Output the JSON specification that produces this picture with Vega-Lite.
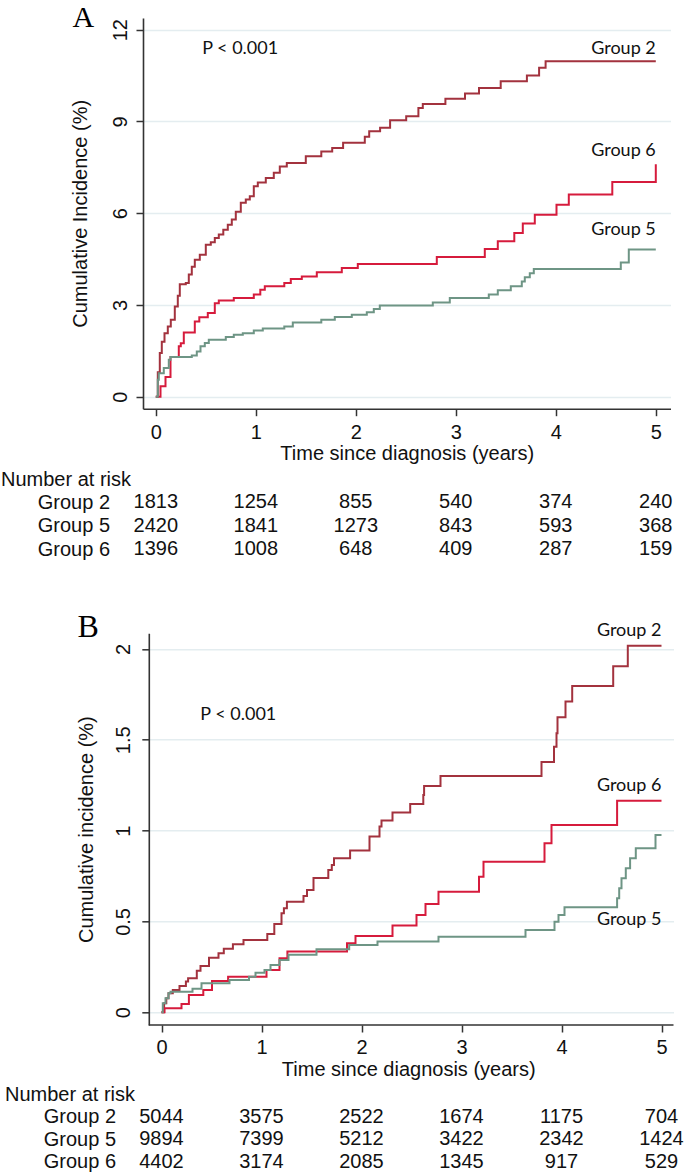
{
  "$schema": "https://vega.github.io/schema/vega-lite/v6.json",
  "padding": {"top": 3, "left": 0, "right": 0, "bottom": 0},
  "background": "white",
  "config": {
    "font": "Liberation Sans",
    "view": {"stroke": null},
    "axis": {"domainColor": "#333333", "domainWidth": 1.6, "tickColor": "#333333", "tickWidth": 1.5, "tickSize": 7, "labelFontSize": 20, "labelColor": "#111111", "titleFontSize": 20, "titleFontWeight": "normal", "titleColor": "#111111", "gridColor": "#e4edf0", "gridWidth": 1.5, "labelFlush": false, "labelOverlap": false}
  },
  "datasets": {
    "curvesA": [
      {"group": "Group 2", "time": 0, "value": 0}, {"group": "Group 2", "time": 0.02, "value": 0.8}, {"group": "Group 2", "time": 0.04, "value": 1.43}, {"group": "Group 2", "time": 0.06, "value": 1.8}, {"group": "Group 2", "time": 0.087, "value": 2.08}, {"group": "Group 2", "time": 0.12, "value": 2.3}, {"group": "Group 2", "time": 0.15, "value": 2.52}, {"group": "Group 2", "time": 0.19, "value": 2.95}, {"group": "Group 2", "time": 0.22, "value": 3.3}, {"group": "Group 2", "time": 0.24, "value": 3.68}, {"group": "Group 2", "time": 0.3, "value": 3.72}, {"group": "Group 2", "time": 0.33, "value": 4.0}, {"group": "Group 2", "time": 0.36, "value": 4.25}, {"group": "Group 2", "time": 0.39, "value": 4.48}, {"group": "Group 2", "time": 0.44, "value": 4.64}, {"group": "Group 2", "time": 0.5, "value": 4.97}, {"group": "Group 2", "time": 0.55, "value": 5.05}, {"group": "Group 2", "time": 0.59, "value": 5.19}, {"group": "Group 2", "time": 0.63, "value": 5.3}, {"group": "Group 2", "time": 0.675, "value": 5.46}, {"group": "Group 2", "time": 0.72, "value": 5.62}, {"group": "Group 2", "time": 0.76, "value": 5.79}, {"group": "Group 2", "time": 0.8, "value": 6.05}, {"group": "Group 2", "time": 0.85, "value": 6.34}, {"group": "Group 2", "time": 0.9, "value": 6.45}, {"group": "Group 2", "time": 0.94, "value": 6.55}, {"group": "Group 2", "time": 0.98, "value": 6.88}, {"group": "Group 2", "time": 1.02, "value": 7.0}, {"group": "Group 2", "time": 1.1, "value": 7.15}, {"group": "Group 2", "time": 1.18, "value": 7.32}, {"group": "Group 2", "time": 1.24, "value": 7.53}, {"group": "Group 2", "time": 1.31, "value": 7.64}, {"group": "Group 2", "time": 1.5, "value": 7.86}, {"group": "Group 2", "time": 1.655, "value": 8.02}, {"group": "Group 2", "time": 1.764, "value": 8.13}, {"group": "Group 2", "time": 1.873, "value": 8.3}, {"group": "Group 2", "time": 2.09, "value": 8.5}, {"group": "Group 2", "time": 2.134, "value": 8.68}, {"group": "Group 2", "time": 2.243, "value": 8.79}, {"group": "Group 2", "time": 2.343, "value": 9.04}, {"group": "Group 2", "time": 2.504, "value": 9.17}, {"group": "Group 2", "time": 2.626, "value": 9.44}, {"group": "Group 2", "time": 2.67, "value": 9.57}, {"group": "Group 2", "time": 2.896, "value": 9.74}, {"group": "Group 2", "time": 3.092, "value": 9.91}, {"group": "Group 2", "time": 3.232, "value": 10.09}, {"group": "Group 2", "time": 3.449, "value": 10.31}, {"group": "Group 2", "time": 3.711, "value": 10.5}, {"group": "Group 2", "time": 3.833, "value": 10.75}, {"group": "Group 2", "time": 3.898, "value": 10.97}, {"group": "Group 2", "time": 5.0, "value": 10.97},
      {"group": "Group 6", "time": 0, "value": 0}, {"group": "Group 6", "time": 0.047, "value": 0.34}, {"group": "Group 6", "time": 0.097, "value": 0.65}, {"group": "Group 6", "time": 0.147, "value": 1.3}, {"group": "Group 6", "time": 0.23, "value": 1.65}, {"group": "Group 6", "time": 0.25, "value": 1.75}, {"group": "Group 6", "time": 0.28, "value": 2.1}, {"group": "Group 6", "time": 0.39, "value": 2.46}, {"group": "Group 6", "time": 0.435, "value": 2.6}, {"group": "Group 6", "time": 0.52, "value": 2.74}, {"group": "Group 6", "time": 0.59, "value": 3.06}, {"group": "Group 6", "time": 0.63, "value": 3.15}, {"group": "Group 6", "time": 0.78, "value": 3.23}, {"group": "Group 6", "time": 0.98, "value": 3.34}, {"group": "Group 6", "time": 1.045, "value": 3.5}, {"group": "Group 6", "time": 1.09, "value": 3.61}, {"group": "Group 6", "time": 1.285, "value": 3.72}, {"group": "Group 6", "time": 1.35, "value": 3.85}, {"group": "Group 6", "time": 1.46, "value": 3.93}, {"group": "Group 6", "time": 1.61, "value": 4.07}, {"group": "Group 6", "time": 1.86, "value": 4.21}, {"group": "Group 6", "time": 2.02, "value": 4.34}, {"group": "Group 6", "time": 2.81, "value": 4.57}, {"group": "Group 6", "time": 3.29, "value": 4.83}, {"group": "Group 6", "time": 3.42, "value": 5.08}, {"group": "Group 6", "time": 3.585, "value": 5.35}, {"group": "Group 6", "time": 3.67, "value": 5.66}, {"group": "Group 6", "time": 3.79, "value": 5.95}, {"group": "Group 6", "time": 4.007, "value": 6.28}, {"group": "Group 6", "time": 4.13, "value": 6.61}, {"group": "Group 6", "time": 4.565, "value": 7.02}, {"group": "Group 6", "time": 5.0, "value": 7.6},
      {"group": "Group 5", "time": 0, "value": 0}, {"group": "Group 5", "time": 0.02, "value": 0.56}, {"group": "Group 5", "time": 0.03, "value": 0.77}, {"group": "Group 5", "time": 0.08, "value": 0.94}, {"group": "Group 5", "time": 0.13, "value": 1.21}, {"group": "Group 5", "time": 0.147, "value": 1.3}, {"group": "Group 5", "time": 0.36, "value": 1.35}, {"group": "Group 5", "time": 0.41, "value": 1.48}, {"group": "Group 5", "time": 0.447, "value": 1.65}, {"group": "Group 5", "time": 0.49, "value": 1.76}, {"group": "Group 5", "time": 0.53, "value": 1.86}, {"group": "Group 5", "time": 0.7, "value": 1.95}, {"group": "Group 5", "time": 0.78, "value": 2.03}, {"group": "Group 5", "time": 0.87, "value": 2.08}, {"group": "Group 5", "time": 0.98, "value": 2.17}, {"group": "Group 5", "time": 1.07, "value": 2.23}, {"group": "Group 5", "time": 1.285, "value": 2.3}, {"group": "Group 5", "time": 1.37, "value": 2.43}, {"group": "Group 5", "time": 1.655, "value": 2.52}, {"group": "Group 5", "time": 1.79, "value": 2.61}, {"group": "Group 5", "time": 1.96, "value": 2.68}, {"group": "Group 5", "time": 2.11, "value": 2.76}, {"group": "Group 5", "time": 2.18, "value": 2.87}, {"group": "Group 5", "time": 2.24, "value": 2.98}, {"group": "Group 5", "time": 2.77, "value": 3.08}, {"group": "Group 5", "time": 2.94, "value": 3.23}, {"group": "Group 5", "time": 3.33, "value": 3.34}, {"group": "Group 5", "time": 3.42, "value": 3.48}, {"group": "Group 5", "time": 3.55, "value": 3.61}, {"group": "Group 5", "time": 3.66, "value": 3.77}, {"group": "Group 5", "time": 3.69, "value": 3.91}, {"group": "Group 5", "time": 3.74, "value": 4.04}, {"group": "Group 5", "time": 3.78, "value": 4.18}, {"group": "Group 5", "time": 4.65, "value": 4.39}, {"group": "Group 5", "time": 4.73, "value": 4.81}, {"group": "Group 5", "time": 5.0, "value": 4.81}
    ],
    "curvesB": [
      {"group": "Group 2", "time": 0, "value": 0}, {"group": "Group 2", "time": 0.026, "value": 0.05}, {"group": "Group 2", "time": 0.048, "value": 0.077}, {"group": "Group 2", "time": 0.07, "value": 0.105}, {"group": "Group 2", "time": 0.113, "value": 0.123}, {"group": "Group 2", "time": 0.18, "value": 0.145}, {"group": "Group 2", "time": 0.244, "value": 0.169}, {"group": "Group 2", "time": 0.266, "value": 0.187}, {"group": "Group 2", "time": 0.353, "value": 0.229}, {"group": "Group 2", "time": 0.39, "value": 0.255}, {"group": "Group 2", "time": 0.475, "value": 0.3}, {"group": "Group 2", "time": 0.57, "value": 0.325}, {"group": "Group 2", "time": 0.623, "value": 0.35}, {"group": "Group 2", "time": 0.714, "value": 0.374}, {"group": "Group 2", "time": 0.82, "value": 0.398}, {"group": "Group 2", "time": 1.058, "value": 0.431}, {"group": "Group 2", "time": 1.128, "value": 0.486}, {"group": "Group 2", "time": 1.2, "value": 0.545}, {"group": "Group 2", "time": 1.224, "value": 0.572}, {"group": "Group 2", "time": 1.254, "value": 0.609}, {"group": "Group 2", "time": 1.42, "value": 0.64}, {"group": "Group 2", "time": 1.455, "value": 0.673}, {"group": "Group 2", "time": 1.52, "value": 0.739}, {"group": "Group 2", "time": 1.668, "value": 0.783}, {"group": "Group 2", "time": 1.703, "value": 0.811}, {"group": "Group 2", "time": 1.725, "value": 0.848}, {"group": "Group 2", "time": 1.886, "value": 0.89}, {"group": "Group 2", "time": 2.08, "value": 0.967}, {"group": "Group 2", "time": 2.18, "value": 1.022}, {"group": "Group 2", "time": 2.2, "value": 1.055}, {"group": "Group 2", "time": 2.31, "value": 1.099}, {"group": "Group 2", "time": 2.487, "value": 1.147}, {"group": "Group 2", "time": 2.618, "value": 1.196}, {"group": "Group 2", "time": 2.626, "value": 1.246}, {"group": "Group 2", "time": 2.79, "value": 1.3}, {"group": "Group 2", "time": 3.8, "value": 1.378}, {"group": "Group 2", "time": 3.925, "value": 1.462}, {"group": "Group 2", "time": 3.95, "value": 1.536}, {"group": "Group 2", "time": 3.96, "value": 1.624}, {"group": "Group 2", "time": 4.04, "value": 1.71}, {"group": "Group 2", "time": 4.107, "value": 1.796}, {"group": "Group 2", "time": 4.517, "value": 1.905}, {"group": "Group 2", "time": 4.663, "value": 2.017}, {"group": "Group 2", "time": 5.0, "value": 2.017},
      {"group": "Group 6", "time": 0, "value": 0}, {"group": "Group 6", "time": 0.03, "value": 0.022}, {"group": "Group 6", "time": 0.2, "value": 0.046}, {"group": "Group 6", "time": 0.274, "value": 0.095}, {"group": "Group 6", "time": 0.418, "value": 0.123}, {"group": "Group 6", "time": 0.505, "value": 0.172}, {"group": "Group 6", "time": 0.666, "value": 0.196}, {"group": "Group 6", "time": 1.05, "value": 0.233}, {"group": "Group 6", "time": 1.18, "value": 0.297}, {"group": "Group 6", "time": 1.259, "value": 0.334}, {"group": "Group 6", "time": 1.855, "value": 0.38}, {"group": "Group 6", "time": 1.94, "value": 0.42}, {"group": "Group 6", "time": 2.31, "value": 0.477}, {"group": "Group 6", "time": 2.55, "value": 0.536}, {"group": "Group 6", "time": 2.64, "value": 0.596}, {"group": "Group 6", "time": 2.77, "value": 0.664}, {"group": "Group 6", "time": 3.175, "value": 0.746}, {"group": "Group 6", "time": 3.22, "value": 0.829}, {"group": "Group 6", "time": 3.83, "value": 0.93}, {"group": "Group 6", "time": 3.9, "value": 1.031}, {"group": "Group 6", "time": 4.556, "value": 1.165}, {"group": "Group 6", "time": 5.0, "value": 1.165},
      {"group": "Group 5", "time": 0, "value": 0}, {"group": "Group 5", "time": 0.013, "value": 0.05}, {"group": "Group 5", "time": 0.04, "value": 0.077}, {"group": "Group 5", "time": 0.07, "value": 0.105}, {"group": "Group 5", "time": 0.09, "value": 0.113}, {"group": "Group 5", "time": 0.31, "value": 0.13}, {"group": "Group 5", "time": 0.4, "value": 0.16}, {"group": "Group 5", "time": 0.68, "value": 0.178}, {"group": "Group 5", "time": 0.875, "value": 0.196}, {"group": "Group 5", "time": 0.94, "value": 0.218}, {"group": "Group 5", "time": 1.03, "value": 0.233}, {"group": "Group 5", "time": 1.09, "value": 0.26}, {"group": "Group 5", "time": 1.18, "value": 0.288}, {"group": "Group 5", "time": 1.27, "value": 0.316}, {"group": "Group 5", "time": 1.55, "value": 0.347}, {"group": "Group 5", "time": 1.877, "value": 0.37}, {"group": "Group 5", "time": 2.16, "value": 0.389}, {"group": "Group 5", "time": 2.77, "value": 0.416}, {"group": "Group 5", "time": 3.64, "value": 0.453}, {"group": "Group 5", "time": 3.93, "value": 0.499}, {"group": "Group 5", "time": 3.97, "value": 0.536}, {"group": "Group 5", "time": 4.03, "value": 0.578}, {"group": "Group 5", "time": 4.556, "value": 0.627}, {"group": "Group 5", "time": 4.577, "value": 0.683}, {"group": "Group 5", "time": 4.6, "value": 0.738}, {"group": "Group 5", "time": 4.643, "value": 0.793}, {"group": "Group 5", "time": 4.686, "value": 0.848}, {"group": "Group 5", "time": 4.743, "value": 0.903}, {"group": "Group 5", "time": 4.94, "value": 0.976}, {"group": "Group 5", "time": 5.0, "value": 0.976}
    ],
    "labelsA": [
      {"label": "Group 2", "time": 5, "value": 11.37},
      {"label": "Group 6", "time": 5, "value": 8.04},
      {"label": "Group 5", "time": 5, "value": 5.44}
    ],
    "labelsB": [
      {"label": "Group 2", "time": 5, "value": 2.1},
      {"label": "Group 6", "time": 5, "value": 1.246},
      {"label": "Group 5", "time": 5, "value": 0.508}
    ],
    "noteA": [{"label": "P < 0.001", "time": 0.464, "value": 11.37}],
    "noteB": [{"label": "P < 0.001", "time": 0.388, "value": 1.637}],
    "riskA": [
      {"group": "Group 2", "time": 0, "n": 1813}, {"group": "Group 2", "time": 1, "n": 1254}, {"group": "Group 2", "time": 2, "n": 855}, {"group": "Group 2", "time": 3, "n": 540}, {"group": "Group 2", "time": 4, "n": 374}, {"group": "Group 2", "time": 5, "n": 240},
      {"group": "Group 5", "time": 0, "n": 2420}, {"group": "Group 5", "time": 1, "n": 1841}, {"group": "Group 5", "time": 2, "n": 1273}, {"group": "Group 5", "time": 3, "n": 843}, {"group": "Group 5", "time": 4, "n": 593}, {"group": "Group 5", "time": 5, "n": 368},
      {"group": "Group 6", "time": 0, "n": 1396}, {"group": "Group 6", "time": 1, "n": 1008}, {"group": "Group 6", "time": 2, "n": 648}, {"group": "Group 6", "time": 3, "n": 409}, {"group": "Group 6", "time": 4, "n": 287}, {"group": "Group 6", "time": 5, "n": 159}
    ],
    "riskB": [
      {"group": "Group 2", "time": 0, "n": 5044}, {"group": "Group 2", "time": 1, "n": 3575}, {"group": "Group 2", "time": 2, "n": 2522}, {"group": "Group 2", "time": 3, "n": 1674}, {"group": "Group 2", "time": 4, "n": 1175}, {"group": "Group 2", "time": 5, "n": 704},
      {"group": "Group 5", "time": 0, "n": 9894}, {"group": "Group 5", "time": 1, "n": 7399}, {"group": "Group 5", "time": 2, "n": 5212}, {"group": "Group 5", "time": 3, "n": 3422}, {"group": "Group 5", "time": 4, "n": 2342}, {"group": "Group 5", "time": 5, "n": 1424},
      {"group": "Group 6", "time": 0, "n": 4402}, {"group": "Group 6", "time": 1, "n": 3174}, {"group": "Group 6", "time": 2, "n": 2085}, {"group": "Group 6", "time": 3, "n": 1345}, {"group": "Group 6", "time": 4, "n": 917}, {"group": "Group 6", "time": 5, "n": 529}
    ]
  },
  "bounds": "flush",
  "spacing": 65.15,
  "vconcat": [
    {
      "width": 527.5,
      "height": 390.7,
      "title": {"text": "A", "anchor": "start", "frame": "group", "orient": "top", "offset": 0, "dx": -70.5, "dy": 39, "baseline": "alphabetic", "font": "Liberation Serif", "fontSize": 30, "fontWeight": "normal", "color": "#000000"},
      "layer": [
        {
          "data": {"name": "curvesA"},
          "mark": {"type": "line", "interpolate": "step-after", "strokeWidth": 2},
          "encoding": {
            "x": {"field": "time", "type": "quantitative", "scale": {"domain": [-0.128, 5.147], "nice": false, "zero": false},
                  "axis": {"values": [0, 1, 2, 3, 4, 5], "format": "d", "grid": false, "title": "Time since diagnosis (years)", "labelBaseline": "middle", "labelPadding": 16.7, "titleBaseline": "middle", "titleY": 45}},
            "y": {"field": "value", "type": "quantitative", "scale": {"domain": [-0.39, 12.38], "nice": false, "zero": false},
                  "axis": {"values": [0, 3, 6, 9, 12], "format": "d", "grid": true, "title": "Cumulative Incidence (%)", "labelAngle": 270, "labelAlign": "center", "labelBaseline": "middle", "labelPadding": 15.5, "titleAngle": 270, "titleAlign": "center", "titleBaseline": "middle", "titleX": -62.5, "titleY": 195.35}},
            "color": {"field": "group", "type": "nominal", "scale": {"domain": ["Group 2", "Group 5", "Group 6"], "range": ["#a3323e", "#6e9585", "#d61b3c"]}, "legend": null}
          }
        },
        {
          "data": {"name": "labelsA"},
          "mark": {"type": "text", "font": "Lato", "fontSize": 18, "align": "right", "baseline": "middle", "color": "#111111"},
          "encoding": {"x": {"field": "time", "type": "quantitative"}, "y": {"field": "value", "type": "quantitative"}, "text": {"field": "label"}}
        },
        {
          "data": {"name": "noteA"},
          "mark": {"type": "text", "font": "Lato", "fontSize": 18, "align": "left", "baseline": "middle", "color": "#111111"},
          "encoding": {"x": {"field": "time", "type": "quantitative"}, "y": {"field": "value", "type": "quantitative"}, "text": {"field": "label"}}
        }
      ]
    },
    {
      "width": 527.5,
      "height": 94,
      "data": {"name": "riskA"},
      "mark": {"type": "text", "fontSize": 20, "align": "center", "baseline": "middle", "color": "#111111"},
      "encoding": {
        "x": {"field": "time", "type": "quantitative", "scale": {"domain": [-0.128, 5.147], "nice": false, "zero": false}, "axis": null},
        "y": {"field": "group", "type": "nominal", "scale": {"domain": ["Group 2", "Group 5", "Group 6"], "padding": 1, "align": 0.6},
              "axis": {"domain": false, "ticks": false, "tickSize": 0, "labelPadding": 33.5, "labelAlign": "right", "labelBaseline": "middle", "title": "Number at risk", "titleAngle": 0, "titleAlign": "left", "titleBaseline": "middle", "titleX": -142.5, "titleY": 5.05}},
        "text": {"field": "n", "type": "nominal"}
      }
    },
    {
      "width": 530.5,
      "height": 391.7,
      "title": {"text": "B", "anchor": "start", "frame": "group", "orient": "top", "offset": 0, "dx": -65.5, "dy": 47.5, "baseline": "alphabetic", "font": "Liberation Serif", "fontSize": 32, "fontWeight": "normal", "color": "#000000"},
      "layer": [
        {
          "data": {"name": "curvesB"},
          "mark": {"type": "line", "interpolate": "step-after", "strokeWidth": 2},
          "encoding": {
            "x": {"field": "time", "type": "quantitative", "scale": {"domain": [-0.185, 5.12], "nice": false, "zero": false},
                  "axis": {"values": [0, 1, 2, 3, 4, 5], "format": "d", "grid": false, "domain": false, "title": "Time since diagnosis (years)", "labelBaseline": "middle", "labelPadding": 15.7, "titleBaseline": "middle", "titleY": 44}},
            "y": {"field": "value", "type": "quantitative", "scale": {"domain": [-0.07, 2.086], "nice": false, "zero": false},
                  "axis": {"values": [0, 0.5, 1, 1.5, 2], "format": ".1~f", "grid": true, "offset": -5.8, "title": "Cumulative incidence (%)", "labelAngle": 270, "labelAlign": "center", "labelBaseline": "middle", "labelPadding": 18.3, "titleAngle": 270, "titleAlign": "center", "titleBaseline": "middle", "titleX": -62.3, "titleY": 195.85}},
            "color": {"field": "group", "type": "nominal", "scale": {"domain": ["Group 2", "Group 5", "Group 6"], "range": ["#a3323e", "#6e9585", "#d61b3c"]}, "legend": null}
          }
        },
        {
          "data": {"values": [{}]},
          "mark": {"type": "rule", "color": "#333333", "strokeWidth": 1.6},
          "encoding": {"x": {"datum": -0.127}, "x2": {"datum": 5.12}, "y": {"datum": -0.07}}
        },
        {
          "data": {"name": "labelsB"},
          "mark": {"type": "text", "font": "Lato", "fontSize": 18, "align": "right", "baseline": "middle", "color": "#111111"},
          "encoding": {"x": {"field": "time", "type": "quantitative"}, "y": {"field": "value", "type": "quantitative"}, "text": {"field": "label"}}
        },
        {
          "data": {"name": "noteB"},
          "mark": {"type": "text", "font": "Lato", "fontSize": 18, "align": "left", "baseline": "middle", "color": "#111111"},
          "encoding": {"x": {"field": "time", "type": "quantitative"}, "y": {"field": "value", "type": "quantitative"}, "text": {"field": "label"}}
        }
      ]
    },
    {
      "width": 530.5,
      "height": 74.25,
      "data": {"name": "riskB"},
      "mark": {"type": "text", "fontSize": 20, "align": "center", "baseline": "middle", "color": "#111111"},
      "encoding": {
        "x": {"field": "time", "type": "quantitative", "scale": {"domain": [-0.185, 5.12], "nice": false, "zero": false}, "axis": null},
        "y": {"field": "group", "type": "nominal", "scale": {"domain": ["Group 2", "Group 5", "Group 6"], "padding": 0.65, "align": 0.9},
              "axis": {"domain": false, "ticks": false, "tickSize": 0, "labelPadding": 27.5, "labelAlign": "right", "labelBaseline": "middle", "title": "Number at risk", "titleAngle": 0, "titleAlign": "left", "titleBaseline": "middle", "titleX": -138.5, "titleY": 4.05}},
        "text": {"field": "n", "type": "nominal"}
      }
    }
  ]
}
